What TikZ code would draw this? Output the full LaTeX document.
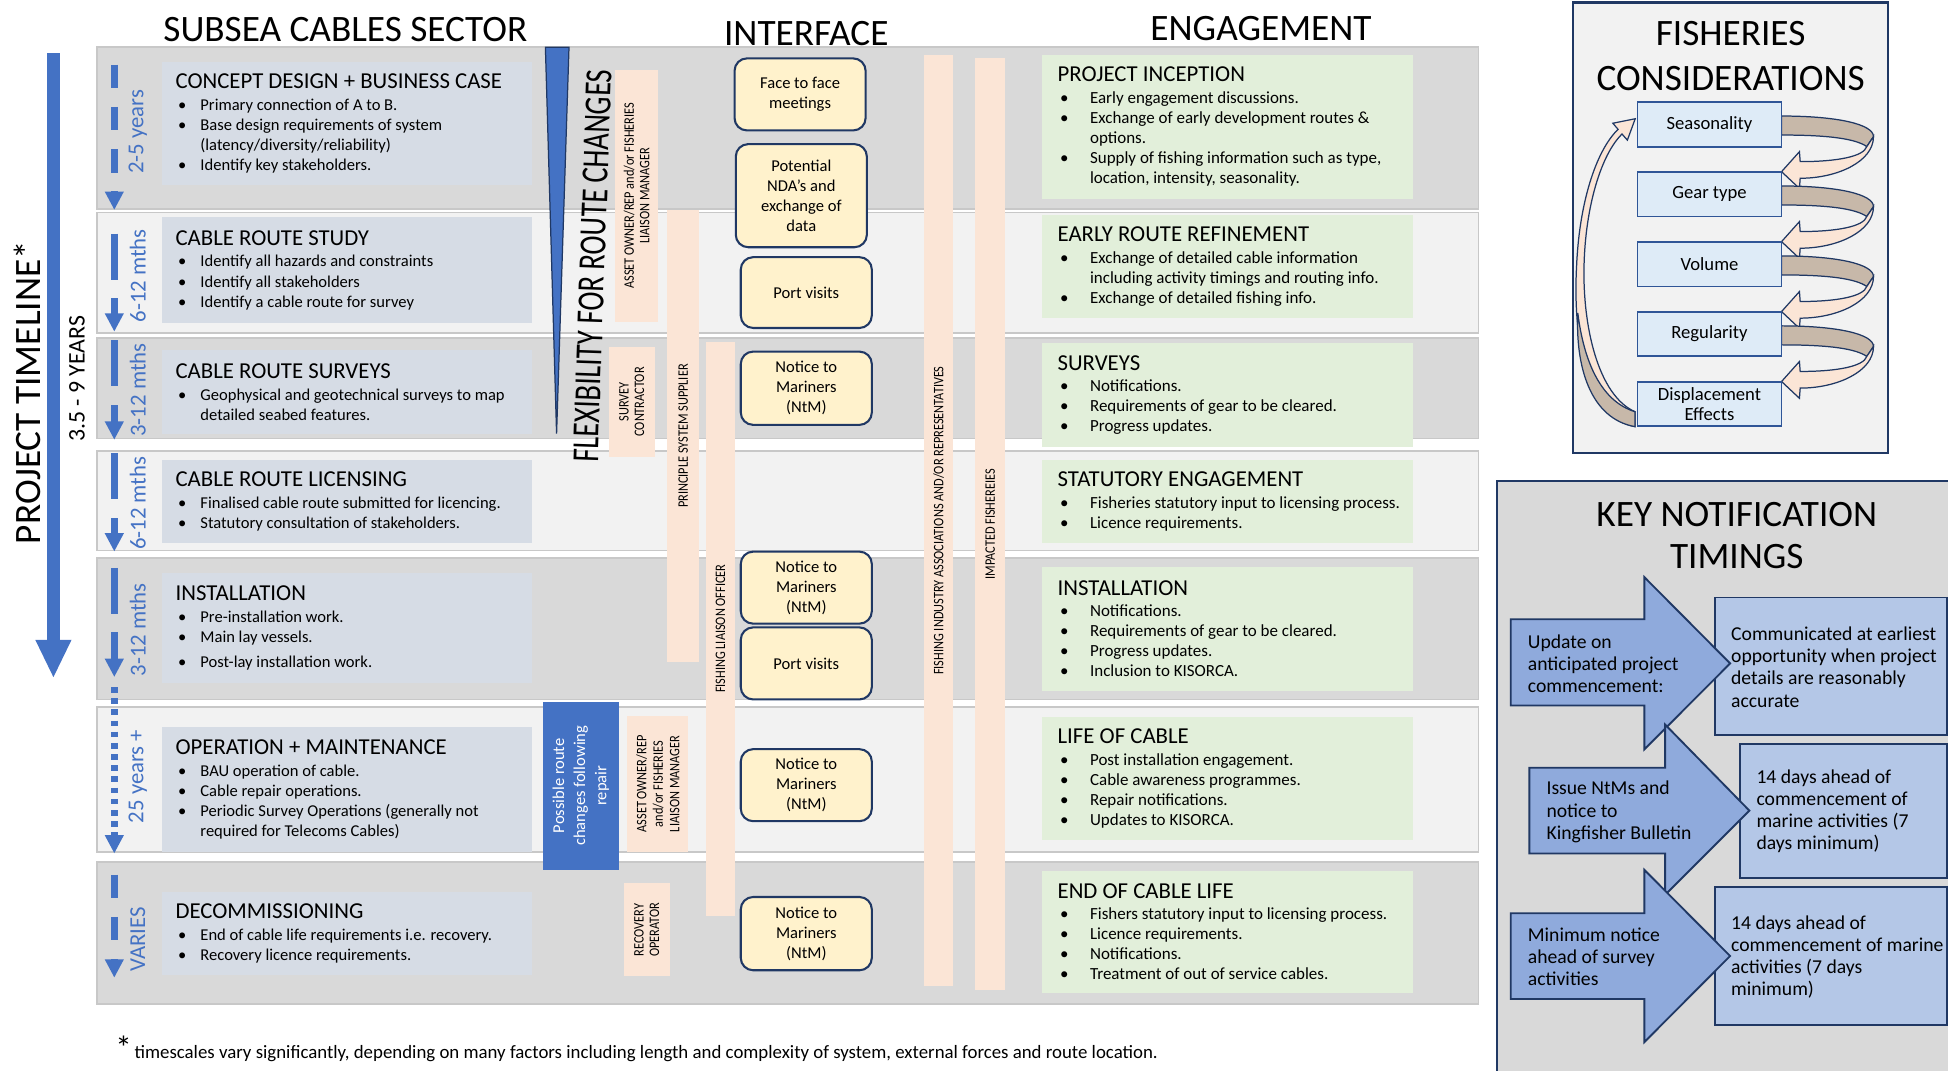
\documentclass[tikz,border=0pt]{standalone}
\usepackage{fontspec}
\setmainfont{Carlito}
\newfontfamily\narrowfont{Carlito}[FakeStretch=0.85]
\newfontfamily\squeezefont{Carlito}[FakeStretch=0.75]
\usetikzlibrary{arrows.meta,positioning}

\definecolor{tlblue}{HTML}{4472C4}
\definecolor{navy}{HTML}{203864}
\definecolor{banddark}{HTML}{D9D9D9}
\definecolor{bandlight}{HTML}{F2F2F2}
\definecolor{bandline}{HTML}{C8C8C8}
\definecolor{stagefill}{HTML}{D6DCE5}
\definecolor{engfill}{HTML}{E2EFDA}
\definecolor{rolefill}{HTML}{FBE5D6}
\definecolor{meetfill}{HTML}{FFF2CC}
\definecolor{considfill}{HTML}{DEEBF7}
\definecolor{considline}{HTML}{2F5597}
\definecolor{loopback}{HTML}{C7B8A9}
\definecolor{notearrowfill}{HTML}{8FAADC}
\definecolor{noteboxfill}{HTML}{B4C7E7}

% bullet lines inside the stage and engagement boxes
\newcommand{\bul}[1][12pt]{\makebox[#1][l]{\hspace{1.2pt}\textbullet}}
\newcommand{\cont}[1][12pt]{\hspace*{#1}}
\newcommand{\stagehead}[1]{{\fontsize{11}{13}\selectfont #1}}

\tikzset{
  band/.style={draw=bandline, line width=0.8pt},
  stagetext/.style={anchor=west, align=left, inner sep=0pt, font=\fontsize{8}{9.7}\selectfont},
  engtext/.style={anchor=west, align=left, inner sep=0pt, font=\fontsize{8.2}{9.7}\selectfont},
  roletext/.style={rotate=90, align=center, inner sep=0pt, font=\narrowfont\fontsize{7}{7.5}\selectfont},
  meeting/.style={draw=navy, line width=1pt, fill=meetfill, rounded corners=6pt, align=center,
    inner sep=1pt, font=\fontsize{8}{9.7}\selectfont, minimum width=63.3pt},
  durlabel/.style={rotate=90, text=tlblue, inner sep=0pt, font=\fontsize{11}{12}\selectfont},
  timeline/.style={draw=tlblue, line width=6pt, -{Triangle[length=18.6pt,width=16pt]}},
  stagearrow/.style={draw=tlblue, line width=3.2pt, -{Triangle[length=8.9pt,width=8.6pt]}},
  shortdash/.style={dash pattern=on 11.4pt off 9pt},
  longdash/.style={dash pattern=on 22.2pt off 9pt},
  dotdash/.style={dash pattern=on 2.7pt off 2.7pt},
  consid/.style={draw=considline, fill=considfill, line width=0.9pt, minimum width=69.6pt,
    minimum height=21.6pt, align=center, inner sep=1pt, font=\fontsize{9}{10}\selectfont},
  loopface/.style={draw=navy, line width=0.6pt},
  notearrow/.style={draw=navy, fill=notearrowfill, line width=0.9pt},
  notebox/.style={draw=navy, fill=noteboxfill, line width=0.9pt},
  notetext/.style={anchor=west, align=left, inner sep=0pt, font=\fontsize{9.5}{10.7}\selectfont},
  bigtitle/.style={align=center, inner sep=0pt, font=\fontsize{18}{21.7}\selectfont},
}

\begin{document}
\begin{tikzpicture}[x=0.6pt, y=-0.6pt]
\useasboundingbox (0,0) rectangle (1568,862);

% column headings
\node[bigtitle] (sectortitle) at (278,24) {SUBSEA CABLES SECTOR};
\node[bigtitle] (interfacetitle) at (649,27) {INTERFACE};
\node[bigtitle] (engagetitle) at (1015,23) {ENGAGEMENT};

% stage bands
\foreach \ya/\yb/\tone in {38/168/banddark, 171/268/bandlight, 272/353/banddark,
    363/443/bandlight, 449/563/banddark, 569/686/bandlight, 694/808/banddark}
  \filldraw[band, fill=\tone] (78,\ya) rectangle (1190,\yb);

\foreach \ya/\yb in {50/149, 175/260, 282/349, 370/437, 461/550, 585/686, 718/785}
  \fill[stagefill] (130,\ya) rectangle (428,\yb);
\foreach \ya/\yb in {44/160, 173/256, 276/360, 370/437, 456/556, 577/676, 701/799}
  \fill[engfill] (839,\ya) rectangle (1137,\yb);

% subsea cables sector
\node[stagetext] (concept) at (141,99.5) {\stagehead{CONCEPT DESIGN + BUSINESS CASE}\\[0.7pt]
  \bul Primary connection of A to B.\\
  \bul Base design requirements of system\\
  \cont (latency/diversity/reliability)\\
  \bul Identify key stakeholders.};
\node[stagetext] (study) at (141,217.5) {\stagehead{CABLE ROUTE STUDY}\\[0.7pt]
  \bul Identify all hazards and constraints\\
  \bul Identify all stakeholders\\
  \bul Identify a cable route for survey};
\node[stagetext] (surveys) at (141,315.5) {\stagehead{CABLE ROUTE SURVEYS}\\[0.7pt]
  \bul Geophysical and geotechnical surveys to map\\
  \cont detailed seabed features.};
\node[stagetext] (licensing) at (141,403.5) {\stagehead{CABLE ROUTE LICENSING}\\[0.7pt]
  \bul Finalised cable route submitted for licencing.\\
  \bul Statutory consultation of stakeholders.};
\node[stagetext] (install) at (141,505.5) {\stagehead{INSTALLATION}\\[0.7pt]
  \bul Pre-installation work.\\
  \bul Main lay vessels.\\[2.5pt]
  \bul Post-lay installation work.};
\node[stagetext] (operation) at (141,635.5) {\stagehead{OPERATION + MAINTENANCE}\\[0.7pt]
  \bul BAU operation of cable.\\
  \bul Cable repair operations.\\
  \bul Periodic Survey Operations (generally not\\
  \cont required for Telecoms Cables)};
\node[stagetext] (decom) at (141,751.5) {\stagehead{DECOMMISSIONING}\\[0.7pt]
  \bul End of cable life requirements i.e. recovery.\\
  \bul Recovery licence requirements.};

% engagement
\node[engtext] (inception) at (851,102) {\stagehead{PROJECT INCEPTION}\\[0.7pt]
  \bul[13.8pt] Early engagement discussions.\\
  \bul[13.8pt] Exchange of early development routes \&\\
  \cont[13.8pt] options.\\
  \bul[13.8pt] Supply of fishing information such as type,\\
  \cont[13.8pt] location, intensity, seasonality.};
\node[engtext] (refine) at (851,214.5) {\stagehead{EARLY ROUTE REFINEMENT}\\[0.7pt]
  \bul[13.8pt] Exchange of detailed cable information\\
  \cont[13.8pt] including activity timings and routing info.\\
  \bul[13.8pt] Exchange of detailed fishing info.};
\node[engtext] (engsurvey) at (851,318) {\stagehead{SURVEYS}\\[0.7pt]
  \bul[13.8pt] Notifications.\\
  \bul[13.8pt] Requirements of gear to be cleared.\\
  \bul[13.8pt] Progress updates.};
\node[engtext] (statutory) at (851,403.5) {\stagehead{STATUTORY ENGAGEMENT}\\[0.7pt]
  \bul[13.8pt] Fisheries statutory input to licensing process.\\
  \bul[13.8pt] Licence requirements.};
\node[engtext] (enginstall) at (851,506) {\stagehead{INSTALLATION}\\[0.7pt]
  \bul[13.8pt] Notifications.\\
  \bul[13.8pt] Requirements of gear to be cleared.\\
  \bul[13.8pt] Progress updates.\\
  \bul[13.8pt] Inclusion to KISORCA.};
\node[engtext] (lifecable) at (851,626.5) {\stagehead{LIFE OF CABLE}\\[0.7pt]
  \bul[13.8pt] Post installation engagement.\\
  \bul[13.8pt] Cable awareness programmes.\\
  \bul[13.8pt] Repair notifications.\\
  \bul[13.8pt] Updates to KISORCA.};
\node[engtext] (endlife) at (851,750) {\stagehead{END OF CABLE LIFE}\\[0.7pt]
  \bul[13.8pt] Fishers statutory input to licensing process.\\
  \bul[13.8pt] Licence requirements.\\
  \bul[13.8pt] Notifications.\\
  \bul[13.8pt] Treatment of out of service cables.};

% parties involved
\fill[rolefill] (495,56) rectangle (530,259);
\node[roletext] (owner) at (512.5,157.5) {ASSET OWNER/REP and/or FISHERIES\\LIAISON MANAGER};
\fill[rolefill] (490,279) rectangle (527,368);
\node[roletext] (contractor) at (508.5,323.5) {SURVEY\\CONTRACTOR};
\fill[rolefill] (537,169) rectangle (563,533);
\node[roletext] (supplier) at (550,351) {PRINCIPLE SYSTEM SUPPLIER};
\fill[rolefill] (568,275) rectangle (592,737);
\node[roletext] (flo) at (580,506) {FISHING LIAISON OFFICER};
\fill[rolefill] (744,44) rectangle (767,794);
\node[roletext] (assoc) at (755.5,419) {FISHING INDUSTRY ASSOCIATIONS AND/OR REPRESENTATIVES};
\fill[rolefill] (785,47) rectangle (809,797);
\node[roletext] (impacted) at (797,422) {IMPACTED FISHEREIES};
\fill[rolefill] (505,576) rectangle (554,686);
\node[roletext, font=\narrowfont\fontsize{7}{8}\selectfont] (owner2) at (529.5,631) {ASSET OWNER/REP\\and/or FISHERIES\\LIAISON MANAGER};
\fill[rolefill] (502,711) rectangle (539,786);
\node[roletext] (recovery) at (520.5,748.5) {RECOVERY\\OPERATOR};

% flexibility wedge
\filldraw[fill=tlblue, draw=navy, line width=0.6pt] (439,38) -- (458,38) -- (448,349) -- cycle;
\node[rotate=88, inner sep=0pt, font=\squeezefont\fontsize{18.5}{20}\selectfont] (flex) at (477,214) {FLEXIBILITY FOR ROUTE CHANGES};

\fill[tlblue] (437,565) rectangle (498,700);
\node[rotate=90, align=center, text=white, inner sep=0pt, font=\fontsize{8}{10.2}\selectfont] (repair) at (467.5,632.5) {Possible route\\changes following\\repair};

% interface
\node[meeting, minimum height=34.8pt] (face) at (644,76) {Face to face\\meetings};
\node[meeting, minimum height=49.8pt] (nda) at (645,157.5) {Potential\\NDA's and\\exchange of\\data};
\node[meeting, minimum height=34.2pt] (port1) at (649,235.5) {Port visits};
\node[meeting, minimum height=35.4pt] (ntm1) at (649,312.5) {Notice to\\Mariners\\(NtM)};
\node[meeting, minimum height=34.8pt] (ntm2) at (649,473) {Notice to\\Mariners\\(NtM)};
\node[meeting, minimum height=34.8pt] (port2) at (649,534) {Port visits};
\node[meeting, minimum height=34.8pt] (ntm3) at (649,632) {Notice to\\Mariners\\(NtM)};
\node[meeting, minimum height=35.4pt] (ntm4) at (649,751.5) {Notice to\\Mariners\\(NtM)};

% project timeline
\coordinate (tlstart) at (43,43);
\coordinate (tlend) at (43,546);
\draw[timeline] (tlstart) -- (tlend);
\node[rotate=90, inner sep=0pt, font=\fontsize{18}{20}\selectfont] (timelabel) at (22,316) {PROJECT TIMELINE*};
\node[rotate=90, inner sep=0pt, font=\fontsize{11.5}{13}\selectfont] (span) at (62,305) {3.5 - 9 YEARS};

\draw[stagearrow, shortdash] (92,52) -- (92,169);
\draw[stagearrow, longdash] (92,188) -- (92,267);
\draw[stagearrow, longdash] (92,274) -- (92,354);
\draw[stagearrow, longdash] (92,365) -- (92,444);
\draw[stagearrow, longdash] (92,457) -- (92,545);
\draw[stagearrow, dotdash] (92,553) -- (92,687);
\draw[stagearrow, shortdash] (92,704) -- (92,787);

\node[durlabel] (dur1) at (111,106) {2-5 years};
\node[durlabel] (dur2) at (111,222) {6-12 mths};
\node[durlabel] (dur3) at (111,314) {3-12 mths};
\node[durlabel] (dur4) at (111,405) {6-12 mths};
\node[durlabel] (dur5) at (111,507) {3-12 mths};
\node[durlabel] (dur6) at (111,625) {25 years +};
\node[durlabel] (dur7) at (111,756) {VARIES};

% fisheries considerations
\filldraw[fill=bandlight, draw=navy, line width=1pt] (1266,2) rectangle (1520,365);
\node[bigtitle] (fishtitle) at (1393,44.9) {FISHERIES\\CONSIDERATIONS};

\filldraw[fill=rolefill, loopface] (1316,343.4) .. controls (1276,336) and (1266,270) .. (1269,214.7)
  .. controls (1271,165) and (1284,122) .. (1302.4,104.1) -- (1298.2,99.2) -- (1316.2,95.6)
  -- (1309.9,112.8) -- (1305.6,107.9) .. controls (1289,124) and (1276,166) .. (1275,214.7)
  .. controls (1274,262) and (1286,318) .. (1316,331.4) -- cycle;
\filldraw[fill=loopback, loopface] (1316,343.4) .. controls (1280,337) and (1268,295) .. (1270,252)
  .. controls (1275,292) and (1289,323) .. (1316,331.4) -- cycle;

\foreach \yc in {100,156.3,212.6,268.9} {
  \begin{scope}[shift={(1434,\yc)}]
    \filldraw[fill=loopback, loopface] (0,-6.6) .. controls (45,-6.6) and (74,0) .. (74,10)
      -- (68.6,18) .. controls (60,12) and (40,8.7) .. (0,8.7) -- cycle;
    \filldraw[fill=rolefill, loopface] (74,10) .. controls (74,30) and (45,43.5) .. (15,43.5)
      -- (14.4,51.7) -- (0,38.2) -- (14.4,22.1) -- (15,30.1)
      .. controls (45,30.1) and (66,26) .. (68.6,18) -- cycle;
  \end{scope}
}

\node[consid] (season) at (1376,100) {Seasonality};
\node[consid] (gear) at (1376,156.3) {Gear type};
\node[consid] (volume) at (1376,212.6) {Volume};
\node[consid] (regular) at (1376,268.9) {Regularity};
\node[consid] (displace) at (1376,325.2) {Displacement\\Effects};

% key notification timings
\filldraw[fill=banddark, draw=navy, line width=1pt] (1205,387) rectangle (1575,870);
\node[bigtitle, font=\fontsize{18}{20.2}\selectfont] (keytitle) at (1398,430.8) {KEY NOTIFICATION\\TIMINGS};

\filldraw[notebox] (1380.5,480.9) rectangle (1567.5,591.5);
\filldraw[notebox] (1400.6,598.6) rectangle (1567.5,706.4);
\filldraw[notebox] (1380.5,714.1) rectangle (1567.5,825);

\filldraw[notearrow] (1216,498.5) -- (1323.6,498.5) -- (1323.6,464.6) -- (1392.6,534)
  -- (1323.6,603.2) -- (1323.6,567.9) -- (1216,567.9) -- cycle;
\filldraw[notearrow] (1231,618) -- (1340.3,618) -- (1340.3,583.2) -- (1408.1,652.5)
  -- (1340.3,720.3) -- (1340.3,687) -- (1231,687) -- cycle;
\filldraw[notearrow] (1216,735.1) -- (1323.6,735.1) -- (1323.6,700.2) -- (1392.6,769.5)
  -- (1323.6,838.8) -- (1323.6,804.1) -- (1216,804.1) -- cycle;

\node[notetext] (update) at (1229.5,534.5) {Update on\\anticipated project\\commencement:};
\node[notetext] (issue) at (1244.5,653.5) {Issue NtMs and\\notice to\\Kingfisher Bulletin};
\node[notetext] (minimum) at (1229.5,770) {Minimum notice\\ahead of survey\\activities};
\node[notetext] (earliest) at (1393.1,537) {Communicated at earliest\\opportunity when project\\details are reasonably\\accurate};
\node[notetext] (ahead1) at (1413.5,653.2) {14 days ahead of\\commencement of\\marine activities (7\\days minimum)};
\node[notetext] (ahead2) at (1393.1,770.3) {14 days ahead of\\commencement of marine\\activities (7 days\\minimum)};

% footnote
\node[inner sep=0pt, font=\fontsize{16}{16}\selectfont] (star) at (99.5,843) {*};
\node[anchor=base west, inner sep=0pt, font=\fontsize{9.1}{10}\selectfont] (footnote) at (108,852)
  {timescales vary significantly, depending on many factors including length and complexity of system, external forces and route location.};
\end{tikzpicture}
\end{document}
